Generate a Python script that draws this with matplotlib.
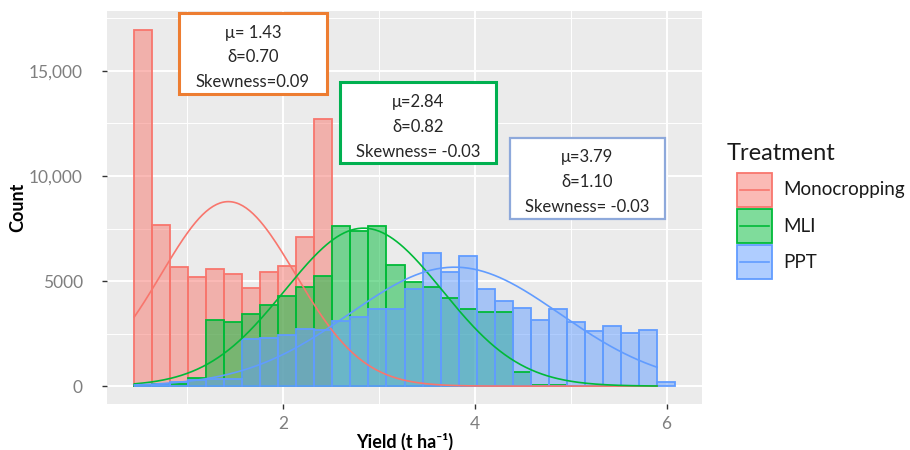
import numpy as np
import matplotlib.pyplot as plt
from matplotlib.patches import Rectangle
from matplotlib.lines import Line2D

plt.rcParams['font.family'] = ['Lato', 'DejaVu Sans']

# --- DATA ---
bin_start = 0.447
bin_width = 0.188

treatments = ['Monocropping', 'MLI', 'PPT']
mono_counts = [16950, 7680, 5680, 5170, 5550, 5330, 4680, 5410, 5710, 7090,
               12690, 0, 0, 0, 0, 0, 0, 0, 0, 0,
               0, 0, 0, 0, 0, 0, 0, 0, 0, 0]
mli_counts = [60, 90, 120, 380, 3170, 3050, 3440, 3840, 4270, 4740,
              5220, 7620, 7380, 7620, 5760, 4970, 4730, 4170, 3650, 3540,
              3540, 680, 60, 40, 30, 20, 0, 0, 0, 0]
ppt_counts = [30, 40, 190, 300, 350, 350, 2220, 2290, 2440, 2730,
              2650, 3110, 3300, 3650, 3650, 4600, 6350, 5410, 6190, 4620,
              4060, 3700, 3170, 3680, 3030, 2620, 2870, 2540, 2670, 210]

means = [1.43, 2.84, 3.79]
sds = [0.70, 0.82, 1.10]
skews = ['0.09', ' -0.03', ' -0.03']
mean_labels = ['μ= 1.43', 'μ=2.84', 'μ=3.79']

curve_lo, curve_hi = 0.45, 5.9

y_ticks = [0, 5000, 10000, 15000]
y_tick_labels = ['0', '5000', '10,000', '15,000']
x_ticks = [2, 4, 6]

# --- STYL ---
colors = ['#F8766D', '#00BA38', '#619CFF']
box_colors = ['#ED7D31', '#00B050', '#8EA9DB']
W, H = 910, 450

fig = plt.figure(figsize=(W / 100, H / 100), dpi=100)
ax = fig.add_axes([107 / W, 1 - 404 / H, (702 - 107) / W, (404 - 11) / H])
ax.set_facecolor('#EBEBEB')
for s in ax.spines.values():
    s.set_visible(False)

all_counts = [mono_counts, mli_counts, ppt_counts]
n_bins = len(mono_counts)
edges = bin_start + bin_width * np.arange(n_bins + 1)

# histogramy (prekryv, ne stack)
for counts, col in zip(all_counts, colors):
    counts = np.array(counts)
    keep = counts > 0
    ax.bar(edges[:-1][keep], counts[keep], width=bin_width, align='edge',
           color=col, alpha=0.5, edgecolor='none', zorder=2)
    ax.bar(edges[:-1][keep], counts[keep], width=bin_width, align='edge',
           facecolor='none', edgecolor=col, linewidth=1.3, zorder=2.1)

# normalni krivky (dnorm * n * binwidth)
xs = np.linspace(curve_lo, curve_hi, 300)
for counts, mu, sd, col in zip(all_counts, means, sds, colors):
    n = sum(counts)
    ys = n * bin_width * np.exp(-0.5 * ((xs - mu) / sd) ** 2) / (sd * np.sqrt(2 * np.pi))
    ax.plot(xs, ys, color=col, linewidth=1.2, zorder=3)

lo, hi = edges[0], edges[-1]
pad = 0.05 * (hi - lo)
ax.set_xlim(lo - pad, hi + pad)
ax.set_ylim(-0.05 * 17000, 17000 * 1.05)

ax.set_xticks(x_ticks)
ax.set_xticks([1, 3, 5], minor=True)
ax.set_yticks(y_ticks)
ax.set_yticks([2500, 7500, 12500, 17500], minor=True)
ax.set_yticklabels(y_tick_labels)
ax.grid(True, which='major', color='white', linewidth=1.4, zorder=0)
ax.grid(True, which='minor', color='white', linewidth=0.7, zorder=0)
ax.set_axisbelow(True)
ax.tick_params(which='major', length=3.5, width=1, color='#333333',
               labelsize=12.5, labelcolor='#7F7F7F')
ax.tick_params(axis='y', pad=14)
ax.tick_params(axis='x', pad=5)
ax.tick_params(which='minor', length=0)

ax.set_xlabel('Yield (t ha⁻¹)', fontsize=13, fontweight='bold', labelpad=1)
ax.set_ylabel('Count', fontsize=13, fontweight='bold', labelpad=2)


# --- TEXTOVE BOXY ---
def px_box(x0, y0, x1, y1, ec, lw, lines, line_y, cx):
    fig.patches.append(Rectangle((x0 / W, 1 - y1 / H), (x1 - x0) / W, (y1 - y0) / H,
                                 transform=fig.transFigure, facecolor='white',
                                 edgecolor=ec, linewidth=lw, zorder=5))
    for t, ly in zip(lines, line_y):
        fig.text(cx / W, 1 - ly / H, t, ha='center', va='center', fontsize=12,
                 color='#262626', zorder=6)


px_box(179, 13, 327, 94, box_colors[0], 2.2,
       [mean_labels[0], 'δ=%.2f' % sds[0], 'Skewness=' + skews[0]],
       [33, 57, 82], 253)
px_box(340, 82, 496, 163, box_colors[1], 2.2,
       [mean_labels[1], 'δ=%.2f' % sds[1], 'Skewness=' + skews[1]],
       [102, 127, 152], 418)
px_box(510, 138, 665, 219, box_colors[2], 1.6,
       [mean_labels[2], 'δ=%.2f' % sds[2], 'Skewness=' + skews[2]],
       [157, 182, 207], 587)

# --- LEGENDA ---
fig.text(727 / W, 1 - 153 / H, 'Treatment', fontsize=17, ha='left', va='center', color='#1a1a1a')
key_tops = [173, 209, 245]
for lab, col, kt in zip(treatments, colors, key_tops):
    fig.patches.append(Rectangle((737 / W, 1 - (kt + 34) / H), 35 / W, 34 / H,
                                 transform=fig.transFigure, facecolor=col, alpha=0.5,
                                 edgecolor='none'))
    fig.patches.append(Rectangle((737 / W, 1 - (kt + 34) / H), 35 / W, 34 / H,
                                 transform=fig.transFigure, facecolor='none',
                                 edgecolor=col, linewidth=1.3))
    fig.lines.append(Line2D([740 / W, 769 / W], [1 - (kt + 17) / H] * 2,
                            transform=fig.transFigure, color=col, linewidth=1.2))
    fig.text(783 / W, 1 - (kt + 17) / H, lab, fontsize=13.5, ha='left', va='center',
             color='#1a1a1a')

fig.savefig('out.png', dpi=100)
